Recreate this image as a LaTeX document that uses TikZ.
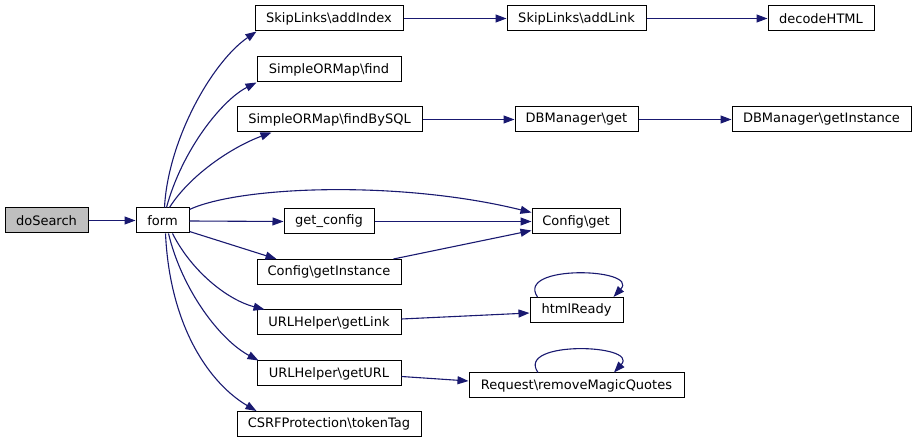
\documentclass[tikz,border=0pt]{standalone}
\usepackage{fontspec}
\setmainfont{DejaVu Sans}
\usetikzlibrary{arrows.meta}
\definecolor{edgecol}{RGB}{25,25,112}
\definecolor{hilite}{RGB}{191,191,191}
\tikzset{
  fn/.style={draw=black, line width=1pt, fill=white, inner sep=0pt, minimum height=25pt,
    font=\fontsize{13}{15}\selectfont},
  cur/.style={fn, fill=hilite},
  call/.style={draw=edgecol, line width=1.1pt, -{Triangle[length=11pt,width=8pt]}, fill=none},
}
\newcommand{\bs}{\textbackslash}
\begin{document}
\begin{tikzpicture}[x=1pt,y=-1pt]
\useasboundingbox (0,0) rectangle (916,443);
% nodes
\node[cur, minimum width=83pt] (doSearch) at (46.5,220.5) {doSearch};
\node[fn, minimum width=53pt] (form) at (162.5,220.5) {form};
\node[fn, minimum width=148pt] (addIndex) at (329,18.5) {SkipLinks\bs addIndex};
\node[fn, minimum width=139pt] (addLink) at (576.5,18.5) {SkipLinks\bs addLink};
\node[fn, minimum width=106pt] (decodeHTML) at (821,18.5) {decodeHTML};
\node[fn, minimum width=144pt] (find) at (329,69.5) {SimpleORMap\bs find};
\node[fn, minimum width=185pt] (findBySQL) at (329.5,119.5) {SimpleORMap\bs findBySQL};
\node[fn, minimum width=123pt] (dbget) at (576.5,119.5) {DBManager\bs get};
\node[fn, minimum width=179pt] (dbinst) at (821.5,119.5) {DBManager\bs getInstance};
\node[fn, minimum width=90pt] (getconfig) at (329,221.5) {get\_config};
\node[fn, minimum width=88pt] (configget) at (576,221.5) {Config\bs get};
\node[fn, minimum width=144pt] (getinst) at (329,272) {Config\bs getInstance};
\node[fn, minimum width=93pt] (htmlReady) at (576.5,310) {htmlReady};
\node[fn, minimum width=144pt] (getLink) at (329,322.5) {URLHelper\bs getLink};
\node[fn, minimum width=144pt] (getURL) at (329,373.5) {URLHelper\bs getURL};
\node[fn, minimum width=215pt] (rmq) at (576.5,385.5) {Request\bs removeMagicQuotes};
\node[fn, minimum width=184pt] (tokenTag) at (329,424) {CSRFProtection\bs tokenTag};
% edges
\draw[call] (doSearch.east) -- (form.west);
\draw[call] ([xshift=2pt]form.north) .. controls (168,140) and (212,62) .. ([xshift=2pt]addIndex.south west);
\draw[call] ([xshift=4pt]form.north) .. controls (182,150) and (222,100) .. (find.south west);
\draw[call] ([xshift=7pt]form.north) .. controls (190,175) and (232,147) .. ([xshift=35pt]findBySQL.south west);
\draw[call] ([yshift=-2pt]form.north east) .. controls (240,186) and (400,180) .. ([yshift=9pt]configget.west);
\draw[call] ([yshift=-0.5pt]form.east) -- (getconfig.west);
\draw[call] ([yshift=2pt]form.south east) -- ([xshift=20pt]getinst.north west);
\draw[call] ([xshift=10pt]form.south) .. controls (192,272) and (228,300) .. ([xshift=8pt]getLink.north west);
\draw[call] ([xshift=6pt]form.south) .. controls (182,290) and (220,340) .. ([xshift=2pt]getURL.north west);
\draw[call] ([xshift=3pt]form.south) .. controls (170,330) and (212,385) .. ([xshift=20pt]tokenTag.north west);
\draw[call] (addIndex.east) -- (addLink.west);
\draw[call] (addLink.east) -- (decodeHTML.west);
\draw[call] (findBySQL.east) -- (dbget.west);
\draw[call] (dbget.east) -- (dbinst.west);
\draw[call] (getconfig.east) -- (configget.west);
\draw[call] ([xshift=-8pt]getinst.north east) -- ([yshift=-9pt]configget.west);
\draw[call] ([yshift=3.5pt]getLink.east) -- ([yshift=-3pt]htmlReady.west);
\draw[call] ([yshift=-3pt]getURL.east) -- ([yshift=4.5pt]rmq.west);
\draw[call] ([xshift=8pt]htmlReady.north west) .. controls (515,264) and (640,268) .. ([xshift=84pt]htmlReady.north west);
\draw[call] ([xshift=-38.5pt]rmq.north) .. controls (515,340) and (640,344) .. ([xshift=37.5pt]rmq.north);
\end{tikzpicture}
\end{document}
